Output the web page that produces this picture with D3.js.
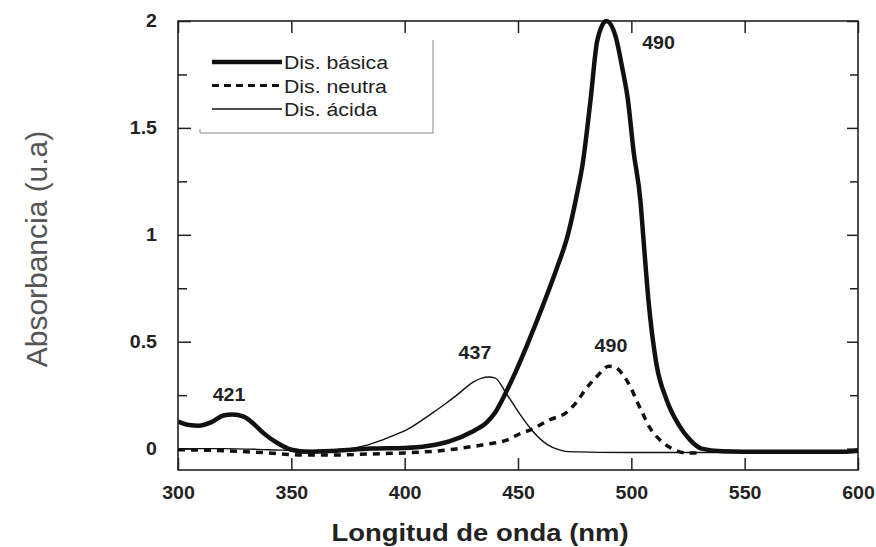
<!DOCTYPE html>
<meta charset="utf-8">
<script src="https://d3js.org/d3.v7.min.js"></script>
<style>
  body { margin: 0; background: #fff; }
  text { font-family: "Liberation Sans", Arial, sans-serif; }
</style>
<div id="chart"></div>
<script>

// spectra: [wavelength nm, absorbance]
var basica = [
  [300,0.127],[305,0.11],[309,0.107],[315,0.125],[320,0.155],[324,0.16],[329,0.15],
  [334,0.11],[338,0.07],[344,0.025],[350,-0.005],[358,-0.015],[370,-0.01],[385,0],
  [400,0.003],[410,0.012],[420,0.035],[430,0.08],[436,0.12],[440,0.17],[445,0.27],
  [449,0.36],[455,0.51],[461,0.67],[467,0.84],[472,1.0],[476,1.19],[478.5,1.33],
  [482,1.63],[485,1.91],[489,2.0],[493,1.93],[496,1.78],[498.5,1.63],[501,1.39],
  [504,1.16],[505.5,0.96],[507.5,0.7],[511,0.4],[515.5,0.23],[521,0.11],[526,0.04],
  [531,0],[540,-0.012],[560,-0.015],[580,-0.015],[595,-0.015],[600,-0.008]
];

var neutra = [
  [300,-0.005],[320,-0.01],[340,-0.02],[355,-0.03],[370,-0.03],[385,-0.025],[400,-0.02],
  [420,-0.005],[430,0.01],[436,0.02],[445,0.04],[451,0.07],[456,0.09],[464,0.135],
  [471.5,0.17],[476,0.22],[480,0.28],[485,0.34],[490,0.385],[493,0.38],[496,0.35],
  [500,0.28],[502.5,0.22],[505,0.165],[508,0.1],[512.5,0.042],[518,0],[524,-0.02],[530,-0.02]
];

var acida = [
  [300,0],[320,0],[340,-0.005],[355,-0.01],[370,-0.005],[376,0],[383,0.015],[390,0.04],
  [396,0.065],[402,0.095],[412,0.165],[418,0.21],[423,0.25],[430,0.31],[434,0.33],
  [437,0.335],[440,0.33],[444.7,0.26],[450.9,0.16],[456.6,0.08],[462.8,0.02],
  [468,-0.005],[472,-0.014],[500,-0.018],[540,-0.018],[600,-0.018]
];

var xTicks = [300, 350, 400, 450, 500, 550, 600];
var yTicks = [0, 0.5, 1, 1.5, 2];
var yMinor = [0.25, 0.75, 1.25, 1.75];

var legendNames = ["Dis. básica", "Dis. neutra", "Dis. ácida"];

// peak labels: [wavelength, absorbance, text]
var peakLabels = [
  [512, 1.87, "490"],
  [431, 0.42, "437"],
  [491, 0.453, "490"],
  [322.5, 0.223, "421"]
];

var width = 876, height = 547;
var stretch = 1.12;   // the scanned lettering is a little wide

var svg = d3.select("#chart")
  .append("svg")
    .attr("width", width)
    .attr("height", height);

var x = d3.scaleLinear().domain([300, 600]).range([178, 858]);
var y = d3.scaleLinear().domain([-0.1, 2]).range([470, 21]);

svg.append("clipPath").attr("id", "clip")
  .append("rect")
    .attr("x", 178).attr("y", 19)
    .attr("width", 680).attr("height", 451);

// bottom axis
svg.append("g")
  .attr("class", "xaxis")
  .attr("transform", "translate(0," + y.range()[0] + ")")
  .call(d3.axisBottom(x).tickValues(xTicks).tickSizeInner(-12).tickSizeOuter(0).tickPadding(17).tickFormat(d3.format("d")));

// top axis (ticks only)
svg.append("g")
  .attr("transform", "translate(0," + y.range()[1] + ")")
  .call(d3.axisTop(x).tickValues(xTicks).tickSizeInner(-12).tickSizeOuter(0).tickFormat(""));

// left axis
svg.append("g")
  .attr("class", "yaxis")
  .attr("transform", "translate(" + x.range()[0] + ",0)")
  .call(d3.axisLeft(y).tickValues(yTicks).tickSizeInner(-13).tickSizeOuter(0).tickPadding(21).tickFormat(function(d) { return d; }));
svg.append("g")
  .attr("transform", "translate(" + x.range()[0] + ",0)")
  .call(d3.axisLeft(y).tickValues(yMinor).tickSizeInner(-9).tickSizeOuter(0).tickFormat(""));

// right axis (ticks only)
svg.append("g")
  .attr("transform", "translate(" + x.range()[1] + ",0)")
  .call(d3.axisRight(y).tickValues(yTicks).tickSizeInner(-11).tickSizeOuter(0).tickFormat(""));
svg.append("g")
  .attr("transform", "translate(" + x.range()[1] + ",0)")
  .call(d3.axisRight(y).tickValues(yMinor).tickSizeInner(-8).tickSizeOuter(0).tickFormat(""));

svg.selectAll(".domain").remove();
svg.selectAll(".tick line").attr("stroke", "#222").attr("stroke-width", 1.5);
svg.selectAll(".tick text")
  .attr("fill", "#222")
  .style("font-size", "17.5px")
  .style("font-weight", "bold");
svg.selectAll(".xaxis .tick text").attr("transform", "scale(" + stretch + ",1)");
svg.selectAll(".yaxis .tick text")
  .attr("x", -21 / stretch)
  .attr("transform", "scale(" + stretch + ",1)");

// frame
svg.append("rect")
  .attr("x", x.range()[0]).attr("y", y.range()[1])
  .attr("width", x.range()[1] - x.range()[0])
  .attr("height", y.range()[0] - y.range()[1])
  .attr("fill", "none")
  .attr("stroke", "#222")
  .attr("stroke-width", 1.6);

// curves
var line = d3.line()
  .x(function(d) { return x(d[0]); })
  .y(function(d) { return y(d[1]); })
  .curve(d3.curveMonotoneX);

var plot = svg.append("g").attr("clip-path", "url(#clip)");

plot.append("path")
  .datum(acida)
  .attr("fill", "none")
  .attr("stroke", "#111")
  .attr("stroke-width", 1.4)
  .attr("d", line);

plot.append("path")
  .datum(neutra)
  .attr("fill", "none")
  .attr("stroke", "#111")
  .attr("stroke-width", 3.5)
  .attr("stroke-dasharray", "7,6")
  .attr("d", line);

plot.append("path")
  .datum(basica)
  .attr("fill", "none")
  .attr("stroke", "#111")
  .attr("stroke-width", 4.5)
  .attr("stroke-linejoin", "round")
  .attr("d", line);

// helper: text drawn a little wider, like the scan
function wideText(parent, px, py, str) {
  return parent.append("g")
    .attr("transform", "translate(" + px + "," + py + ") scale(" + stretch + ",1)")
    .append("text")
    .text(str);
}

// peak labels
peakLabels.forEach(function(d) {
  wideText(svg, x(d[0]), y(d[1]), d[2])
    .attr("text-anchor", "middle")
    .attr("fill", "#222")
    .style("font-size", "17.5px")
    .style("font-weight", "bold");
});

// legend
var legend = svg.append("g");
legend.append("path")
  .attr("d", "M433,40 L433,133 L200,133 M200,129 L200,133")
  .attr("fill", "none")
  .attr("stroke", "#888")
  .attr("stroke-width", 1);

var legendStyles = [
  {w: 4.5, dash: null},
  {w: 3, dash: "7,5"},
  {w: 1.4, dash: null}
];

legendNames.forEach(function(name, i) {
  var ly = 62 + i * 23.5;
  legend.append("line")
    .attr("x1", 212).attr("x2", 282)
    .attr("y1", ly).attr("y2", ly)
    .attr("stroke", "#111")
    .attr("stroke-width", legendStyles[i].w)
    .attr("stroke-dasharray", legendStyles[i].dash);
  wideText(legend, 284, ly + 7, name)
    .attr("fill", "#222")
    .style("font-size", "19px");
});

// axis titles
wideText(svg, 480, 541, "Longitud de onda (nm)")
  .attr("text-anchor", "middle")
  .attr("fill", "#222")
  .style("font-size", "24.5px")
  .style("font-weight", "bold");

svg.append("g")
  .attr("transform", "translate(47,249) rotate(-90) scale(1.07,1.05)")
  .append("text")
    .attr("text-anchor", "middle")
    .attr("fill", "#555")
    .style("font-size", "28px")
    .text("Absorbancia (u.a)");

</script>
